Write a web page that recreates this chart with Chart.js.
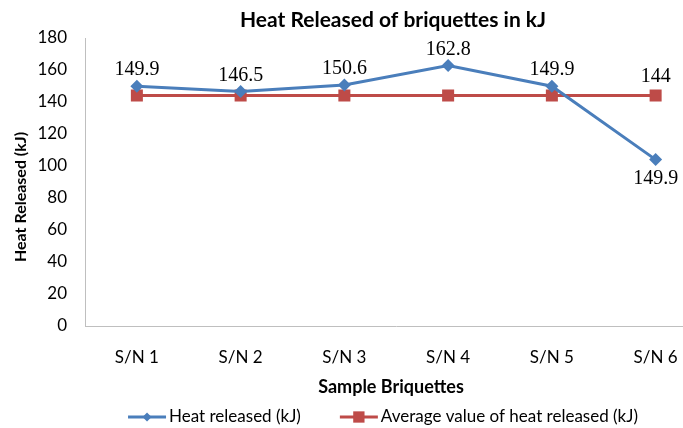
<!DOCTYPE html>
<html>
<head>
<meta charset="utf-8">
<script src="https://cdn.jsdelivr.net/npm/chart.js@4.4.0/dist/chart.umd.min.js"></script>
<style>
  html, body { margin: 0; padding: 0; background: #fff; overflow: hidden; }
  #wrap { width: 716px; height: 428px; }
</style>
</head>
<body>
<div id="wrap"><canvas id="heat" width="716" height="428"></canvas></div>
<script>
// data
const samples = ["S/N 1", "S/N 2", "S/N 3", "S/N 4", "S/N 5", "S/N 6"];
const heatReleased = [149.9, 146.5, 150.6, 162.8, 149.9, 104];
const heatLabels = ["149.9", "146.5", "150.6", "162.8", "149.9", "149.9"];
const averageHeat = [144, 144, 144, 144, 144, 144];
const averageLabels = ["", "", "", "", "", "144"];
const seriesNames = ["Heat released (kJ)", "Average value of heat released (kJ)"];

const blue = "#4a7ebb";
const red = "#be4b48";
const sansFont = "Lato, 'Open Sans', sans-serif";

// title, axis titles, legend and point labels drawn by hand
const extras = {
  id: "extras",
  afterDatasetsDraw(chart) {
    const ctx = chart.ctx;
    ctx.save();
    ctx.fillStyle = "#000";
    ctx.textAlign = "center";
    ctx.textBaseline = "middle";

    // point labels
    ctx.font = "20px 'Liberation Serif', serif";
    const below = [false, false, false, false, false, true];
    chart.getDatasetMeta(0).data.forEach((pt, i) => {
      const y = below[i] ? pt.y + 19 : pt.y - 16;
      ctx.fillText(heatLabels[i], pt.x, y);
    });
    chart.getDatasetMeta(1).data.forEach((pt, i) => {
      if (averageLabels[i]) ctx.fillText(averageLabels[i], pt.x, pt.y - 19);
    });

    // title
    ctx.font = "bold 21px " + sansFont;
    ctx.fillText("Heat Released of briquettes in kJ", 393, 20);

    // x axis title
    ctx.font = "bold 18px " + sansFont;
    ctx.fillText("Sample Briquettes", 391, 387);

    // y axis title
    ctx.save();
    ctx.translate(21, 197);
    ctx.rotate(-Math.PI / 2);
    ctx.font = "bold 16px " + sansFont;
    ctx.fillText("Heat Released (kJ)", 0, 0);
    ctx.restore();

    // legend
    ctx.font = "17px " + sansFont;
    const colors = [blue, red];
    const styles = ["rectRot", "rect"];
    const radii = [4.5, 8];
    const lineW = 38, gap = 3, itemGap = 39;
    const widths = seriesNames.map(n => lineW + gap + ctx.measureText(n).width);
    const total = widths[0] + widths[1] + itemGap;
    let x = 383 - total / 2;
    const ly = 417;
    seriesNames.forEach((name, i) => {
      ctx.strokeStyle = colors[i];
      ctx.lineWidth = 3;
      ctx.beginPath();
      ctx.moveTo(x, ly);
      ctx.lineTo(x + lineW, ly);
      ctx.stroke();
      ctx.fillStyle = colors[i];
      Chart.helpers.drawPoint(ctx, { pointStyle: styles[i], radius: radii[i], borderWidth: 0 }, x + lineW / 2, ly);
      ctx.fillStyle = "#000";
      ctx.textAlign = "left";
      ctx.fillText(name, x + lineW + gap, ly);
      x += widths[i] + itemGap;
    });
    ctx.restore();
  }
};

const heat = document.getElementById("heat").getContext("2d");

let myChartHeat = new Chart(heat, {
  type: "line",
  data: {
    labels: samples,
    datasets: [
      {
        label: seriesNames[0],
        data: heatReleased,
        borderColor: blue,
        backgroundColor: blue,
        borderWidth: 3,
        pointStyle: "rectRot",
        pointRadius: 6.5,
        pointBorderWidth: 0,
        tension: 0,
      },
      {
        label: seriesNames[1],
        data: averageHeat,
        borderColor: red,
        backgroundColor: red,
        borderWidth: 3,
        pointStyle: "rect",
        pointRadius: 8.5,
        pointBorderWidth: 0,
        tension: 0,
      },
    ],
  },
  options: {
    responsive: false,
    animation: false,
    layout: { padding: { top: 38, right: 0, left: 0, bottom: 0 } },
    plugins: {
      legend: { display: false },
      title: { display: false },
      tooltip: { enabled: false },
    },
    scales: {
      x: {
        offset: true,
        grid: { display: false, drawTicks: false },
        border: { display: true, color: "#bfbfbf", width: 1 },
        ticks: { color: "#000", padding: 21, font: { family: sansFont, size: 17 } },
        afterFit(scale) { scale.height = 102; },
      },
      y: {
        min: 0,
        max: 180,
        grid: { display: false, drawTicks: false },
        border: { display: true, color: "#bfbfbf", width: 1 },
        ticks: { stepSize: 20, color: "#000", padding: 18, font: { family: sansFont, size: 17 } },
        afterFit(scale) { scale.width = 85; },
      },
    },
  },
  plugins: [extras],
});
</script>
</body>
</html>
